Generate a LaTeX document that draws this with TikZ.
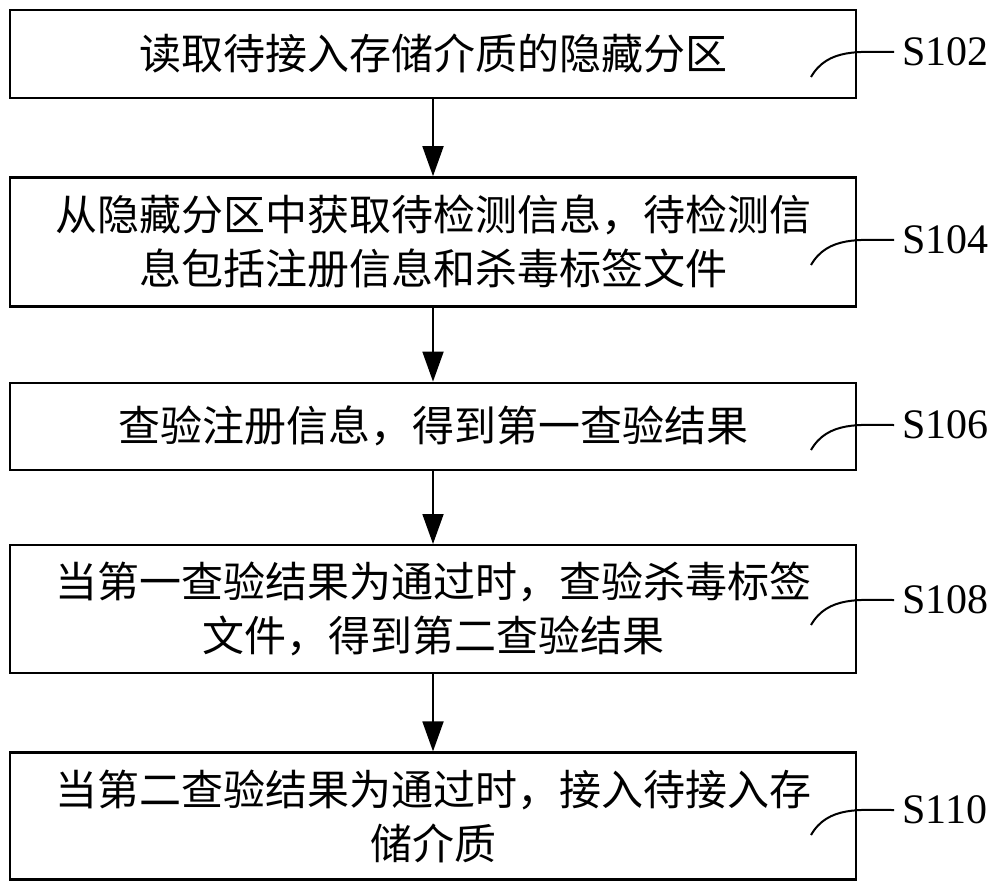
\documentclass[tikz,border=0pt]{standalone}
\usepackage{fontspec}
\setmainfont{Liberation Serif}
\newfontfamily\cjk{Noto Sans CJK SC}
\usetikzlibrary{positioning,arrows.meta}

\begin{document}
\begin{tikzpicture}
      [stepbox/.style={draw, line width=1.2pt, minimum width=423pt, align=center,
        inner sep=0pt, font=\cjk\fontsize{21pt}{27pt}\selectfont},
      flow/.style={line width=0.9pt, -{Triangle[length=15pt,width=10.5pt]}},
      steplabel/.style={inner sep=4pt, anchor=west, font=\fontsize{21pt}{25pt}\selectfont},
      tag/.style={line width=1pt},
      node distance=38.5pt]

      \useasboundingbox (0,0) rectangle (500pt,-446.5pt);

      \node[stepbox, minimum height=44pt] (b1) at (216.5pt,-27pt) {读取待接入存储介质的隐藏分区};
      \node[stepbox, minimum height=64.5pt, below=of b1] (b2)
        {从隐藏分区中获取待检测信息，待检测信\\息包括注册信息和杀毒标签文件};
      \node[stepbox, minimum height=43.5pt, below=37pt of b2] (b3) {查验注册信息，得到第一查验结果};
      \node[stepbox, minimum height=64pt, below=36.5pt of b3] (b4)
        {当第一查验结果为通过时，查验杀毒标签\\文件，得到第二查验结果};
      \node[stepbox, minimum height=63.5pt, below=38.5pt of b4] (b5)
        {当第二查验结果为通过时，接入待接入存\\储介质};

      \draw[flow] (b1) -- (b2);
      \draw[flow] (b2) -- (b3);
      \draw[flow] (b3) -- (b4);
      \draw[flow] (b4) -- (b5);

      \node[steplabel] (l102) at (447pt,-26pt) {S102};
      \node[steplabel] (l104) at (447pt,-120pt) {S104};
      \node[steplabel] (l106) at (447pt,-212.5pt) {S106};
      \node[steplabel] (l108) at (447pt,-300pt) {S108};
      \node[steplabel] (l110) at (447pt,-405pt) {S110};

      \coordinate (c102) at ([shift={(-41.5pt,-12.5pt)}]l102.west);
      \coordinate (c104) at ([shift={(-41.5pt,-12.5pt)}]l104.west);
      \coordinate (c106) at ([shift={(-41.5pt,-12.5pt)}]l106.west);
      \coordinate (c108) at ([shift={(-41.5pt,-12.5pt)}]l108.west);
      \coordinate (c110) at ([shift={(-41.5pt,-12.5pt)}]l110.west);

      \draw[tag] (l102.west) to[out=180,in=60] (c102);
      \draw[tag] (l104.west) to[out=180,in=60] (c104);
      \draw[tag] (l106.west) to[out=180,in=60] (c106);
      \draw[tag] (l108.west) to[out=180,in=60] (c108);
      \draw[tag] (l110.west) to[out=180,in=60] (c110);
    \end{tikzpicture}
\end{document}
